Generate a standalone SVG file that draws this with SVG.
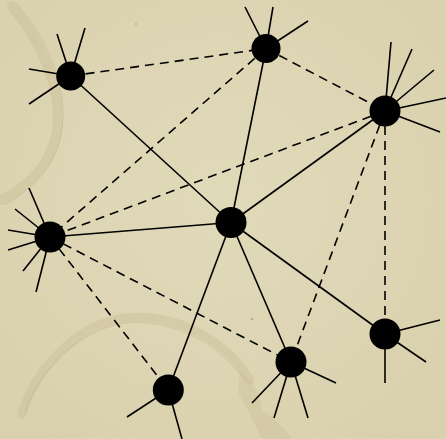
<svg xmlns="http://www.w3.org/2000/svg" width="446" height="439" viewBox="0 0 446 439">
  <defs>
    <radialGradient id="paper" cx="50%" cy="45%" r="70%">
      <stop offset="0" stop-color="#e1dab9"/>
      <stop offset="1" stop-color="#d9d0ad"/>
    </radialGradient>
    <style>
      .stain { fill: none; stroke: #c9bc95; stroke-opacity: 0.42; stroke-linecap: round; }
      .stainedge { fill: none; stroke: #b8aa82; stroke-opacity: 0.35; stroke-width: 1; }
      .solid { stroke: #000; stroke-width: 1.6; fill: none; }
      .dash { stroke: #000; stroke-width: 1.6; fill: none; stroke-dasharray: 9 6; }
      .spike { stroke: #000; stroke-width: 1.6; fill: none; }
      .dot { fill: #000; }
    </style>
  </defs>
  <rect width="446" height="439" fill="url(#paper)"/>
  <g id="stains">
    <path class="stain" stroke-width="10" d="M12,6 C40,40 58,80 58,118 C58,150 40,180 2,200"/>
    <path class="stainedge" d="M17,4 C48,40 64,80 63,118 C62,152 44,184 4,205"/>
    <path class="stain" stroke-width="9" d="M22,414 C35,370 75,325 125,318 C175,312 225,340 250,380"/>
    <path class="stainedge" d="M25,412 C38,372 78,330 125,323 C172,318 220,344 246,382"/>
    <path fill="#c9bc95" fill-opacity="0.35" d="M240,372 C252,378 260,395 262,410 C270,415 282,425 292,439 L262,439 C255,425 245,405 238,392 Z"/>
    <circle cx="252" cy="319" r="1.3" fill="#b9ad88"/>
    <circle cx="136" cy="24" r="1" fill="#b9ad88"/>
  </g>
  <g id="connectors">
    <line class="solid" x1="70.7" y1="76" x2="231" y2="222.5"/>
    <line class="solid" x1="266" y1="48.5" x2="231" y2="222.5"/>
    <line class="solid" x1="385" y1="111" x2="231" y2="222.5"/>
    <line class="solid" x1="50" y1="237" x2="231" y2="222.5"/>
    <line class="solid" x1="231" y1="222.5" x2="168.3" y2="390"/>
    <line class="solid" x1="231" y1="222.5" x2="291" y2="362"/>
    <line class="solid" x1="231" y1="222.5" x2="385" y2="334"/>
    <line class="dash" x1="70.7" y1="76" x2="266" y2="48.5"/>
    <line class="dash" x1="266" y1="48.5" x2="50" y2="237"/>
    <line class="dash" x1="266" y1="48.5" x2="385" y2="111"/>
    <line class="dash" x1="385" y1="111" x2="50" y2="237"/>
    <line class="dash" x1="385" y1="111" x2="291" y2="362"/>
    <line class="dash" x1="385" y1="111" x2="385" y2="334"/>
    <line class="dash" x1="50" y1="237" x2="291" y2="362"/>
    <line class="dash" x1="50" y1="237" x2="168.3" y2="390"/>
  </g>
  <g id="nodeA">
    <line class="spike" x1="70.7" y1="76" x2="57" y2="34"/>
    <line class="spike" x1="70.7" y1="76" x2="85" y2="28"/>
    <line class="spike" x1="70.7" y1="76" x2="29" y2="69"/>
    <line class="spike" x1="70.7" y1="76" x2="29" y2="104"/>
    <circle class="dot" cx="70.7" cy="76" r="14.5"/>
  </g>
  <g id="nodeB">
    <line class="spike" x1="266" y1="48.5" x2="245" y2="7"/>
    <line class="spike" x1="266" y1="48.5" x2="273" y2="7"/>
    <line class="spike" x1="266" y1="48.5" x2="308" y2="21"/>
    <circle class="dot" cx="266" cy="48.5" r="14.5"/>
  </g>
  <g id="nodeC">
    <line class="spike" x1="385" y1="111" x2="391" y2="42"/>
    <line class="spike" x1="385" y1="111" x2="412" y2="49"/>
    <line class="spike" x1="385" y1="111" x2="434" y2="70"/>
    <line class="spike" x1="385" y1="111" x2="446" y2="98"/>
    <line class="spike" x1="385" y1="111" x2="440" y2="132"/>
    <circle class="dot" cx="385" cy="111" r="15.5"/>
  </g>
  <g id="nodeD">
    <line class="spike" x1="50" y1="237" x2="29" y2="188"/>
    <line class="spike" x1="50" y1="237" x2="15" y2="209"/>
    <line class="spike" x1="50" y1="237" x2="8" y2="230"/>
    <line class="spike" x1="50" y1="237" x2="8" y2="250"/>
    <line class="spike" x1="50" y1="237" x2="23" y2="271"/>
    <line class="spike" x1="50" y1="237" x2="36" y2="292"/>
    <circle class="dot" cx="50" cy="237" r="15.5"/>
  </g>
  <g id="nodeE">
    <circle class="dot" cx="231" cy="222.5" r="15.5"/>
  </g>
  <g id="nodeF">
    <line class="spike" x1="168.3" y1="390" x2="127" y2="417"/>
    <line class="spike" x1="168.3" y1="390" x2="182" y2="439"/>
    <circle class="dot" cx="168.3" cy="390" r="15.5"/>
  </g>
  <g id="nodeG">
    <line class="spike" x1="291" y1="362" x2="336" y2="383"/>
    <line class="spike" x1="291" y1="362" x2="252" y2="403"/>
    <line class="spike" x1="291" y1="362" x2="274" y2="418"/>
    <line class="spike" x1="291" y1="362" x2="308" y2="418"/>
    <circle class="dot" cx="291" cy="362" r="15.5"/>
  </g>
  <g id="nodeH">
    <line class="spike" x1="385" y1="334" x2="440" y2="320"/>
    <line class="spike" x1="385" y1="334" x2="426" y2="362"/>
    <line class="spike" x1="385" y1="334" x2="385" y2="383"/>
    <circle class="dot" cx="385" cy="334" r="15.5"/>
  </g>
</svg>
